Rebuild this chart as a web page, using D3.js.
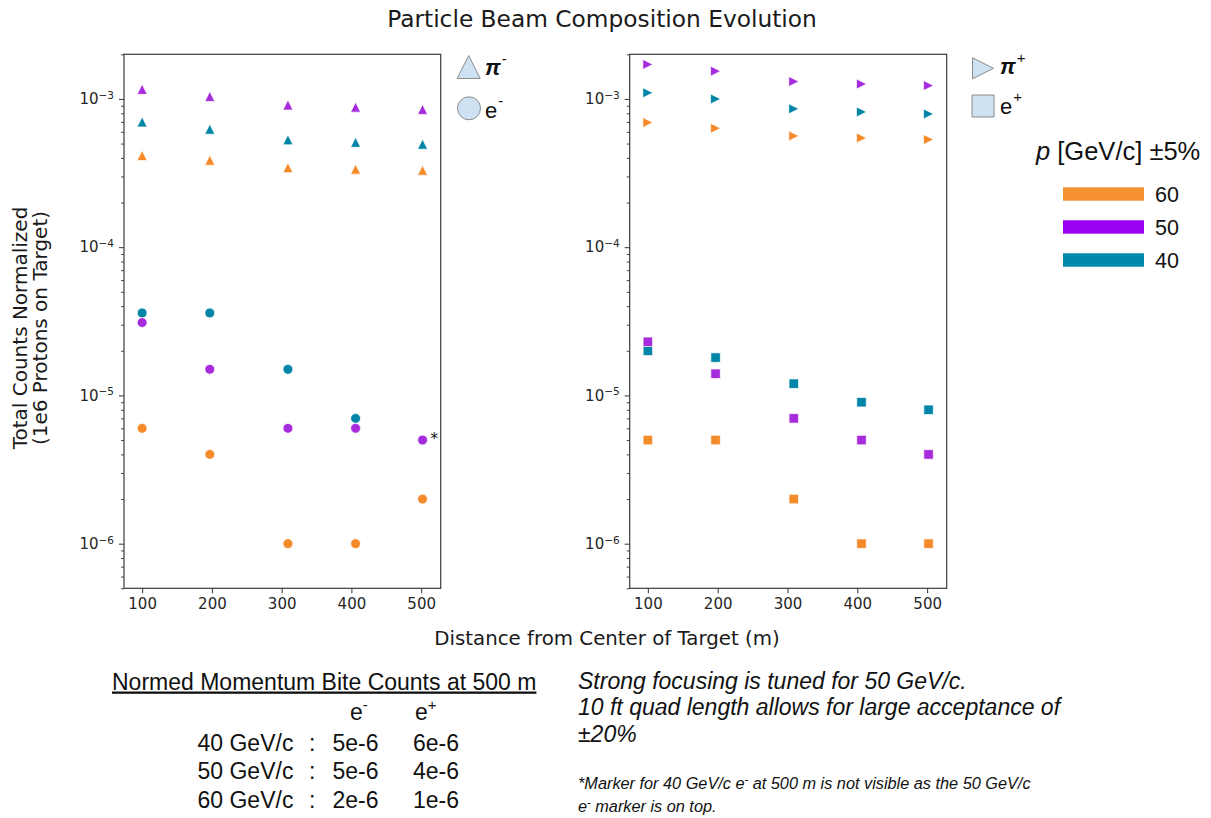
<!DOCTYPE html>
<html>
<head>
<meta charset="utf-8">
<script src="https://cdn.jsdelivr.net/npm/d3@7"></script>
<style>
  body { margin: 0; background: #fff; }
  svg { display: block; }
</style>
</head>
<body>
<svg id="chart" width="1211" height="818"></svg>
<script>
// Distance of each measurement station from the target centre (m)
const distances = [100, 197, 309, 406, 502];
const xTicks = [100, 200, 300, 400, 500];
const yMajorTicks = [1e-6, 1e-5, 1e-4, 1e-3];
const momenta = ["60", "50", "40"];

// Negative beam: pi- counts per momentum setting (GeV/c)
const piMinus40 = [7.0e-4, 6.25e-4, 5.3e-4, 5.1e-4, 4.95e-4];
const piMinus50 = [1.16e-3, 1.04e-3, 9.1e-4, 8.8e-4, 8.5e-4];
const piMinus60 = [4.15e-4, 3.86e-4, 3.44e-4, 3.36e-4, 3.3e-4];
// Negative beam: e- counts
const eMinus40 = [3.6e-5, 3.6e-5, 1.5e-5, 7e-6, 5e-6];
const eMinus50 = [3.1e-5, 1.5e-5, 6e-6, 6e-6, 5e-6];
const eMinus60 = [6e-6, 4e-6, 1e-6, 1e-6, 2e-6];
// Positive beam: pi+ counts
const piPlus40 = [1.10e-3, 1.0e-3, 8.57e-4, 8.17e-4, 7.92e-4];
const piPlus50 = [1.71e-3, 1.54e-3, 1.31e-3, 1.26e-3, 1.23e-3];
const piPlus60 = [6.93e-4, 6.34e-4, 5.63e-4, 5.46e-4, 5.32e-4];
// Positive beam: e+ counts
const ePlus40 = [2.0e-5, 1.8e-5, 1.2e-5, 9e-6, 8e-6];
const ePlus50 = [2.3e-5, 1.4e-5, 7e-6, 5e-6, 4e-6];
const ePlus60 = [5e-6, 5e-6, 2e-6, 1e-6, 1e-6];

// Momentum bite table at 500 m
const biteRows = ["40 GeV/c", "50 GeV/c", "60 GeV/c"];
const biteEMinus = ["5e-6", "5e-6", "2e-6"];
const biteEPlus = ["6e-6", "4e-6", "1e-6"];

const markerColor = { "40": "#0085a8", "50": "#a62bdc", "60": "#f58a2a" };
const swatchColor = { "40": "#0088aa", "50": "#9a00f2", "60": "#f5912f" };

const svg = d3.select("#chart");
const AX_FONT = "'DejaVu Sans', sans-serif";
const HV_FONT = "'Liberation Sans', Arial, sans-serif";

// Marker shapes centred on their bounding box
const triUp = { draw(c, s) { const h = Math.sqrt(s) / 2; c.moveTo(0, -h); c.lineTo(h, h); c.lineTo(-h, h); c.closePath(); } };
const triRight = { draw(c, s) { const h = Math.sqrt(s) / 2; c.moveTo(h, 0); c.lineTo(-h, h); c.lineTo(-h, -h); c.closePath(); } };

const y = d3.scaleLog().domain([5e-7, 2e-3]).range([588.3, 54.3]);
const xL = d3.scaleLinear().domain([74, 528]).range([124, 440.7]);
const xR = d3.scaleLinear().domain([74, 528]).range([629.7, 946.7]);

function drawPanel(x, layers) {
  const g = svg.append("g");
  const [x0, x1] = x.range();
  const [yb, yt] = y.range();

  // minor log ticks
  const minor = y.ticks().filter(v => Math.abs(Math.log10(v) - Math.round(Math.log10(v))) > 1e-6);
  g.append("g").attr("transform", `translate(${x0},0)`)
    .call(d3.axisLeft(y).tickValues(minor).tickSize(3).tickFormat(""))
    .call(a => a.select(".domain").remove())
    .call(a => a.selectAll("line").attr("stroke", "#333").attr("stroke-width", 0.9));

  // major log ticks with power-of-ten labels
  const yAx = g.append("g").attr("transform", `translate(${x0},0)`)
    .call(d3.axisLeft(y).tickValues(yMajorTicks).tickSize(5).tickPadding(5).tickFormat(() => "10"))
    .call(a => a.select(".domain").remove());
  yAx.selectAll("line").attr("stroke", "#333").attr("stroke-width", 1);
  yAx.selectAll("text").attr("font-family", AX_FONT).attr("font-size", 15).attr("fill", "#262626")
    .append("tspan").attr("dy", "-0.5em").attr("font-size", 10.5)
    .text(d => "\u2212" + Math.abs(Math.round(Math.log10(d))));

  const xAx = g.append("g").attr("transform", `translate(0,${yb})`)
    .call(d3.axisBottom(x).tickValues(xTicks).tickSize(5).tickPadding(5))
    .call(a => a.select(".domain").remove());
  xAx.selectAll("line").attr("stroke", "#333").attr("stroke-width", 1);
  xAx.selectAll("text").attr("font-family", AX_FONT).attr("font-size", 15).attr("fill", "#262626");

  // frame
  g.append("rect").attr("x", x0).attr("y", yt).attr("width", x1 - x0).attr("height", yb - yt)
    .attr("fill", "none").attr("stroke", "#3a3a3a").attr("stroke-width", 1.2);

  layers.forEach(L => {
    const sym = d3.symbol().type(L.type).size(L.size);
    g.append("g").selectAll("path")
      .data(L.values.map((v, i) => ({ d: distances[i], v })))
      .join("path")
      .attr("d", sym)
      .attr("transform", p => `translate(${x(p.d)},${y(p.v)})`)
      .attr("fill", markerColor[L.p])
      .attr("stroke", "#fff").attr("stroke-width", 0.7);
  });
  return g;
}

const gl = drawPanel(xL, [
  { type: triUp, size: 100, p: "40", values: piMinus40 },
  { type: triUp, size: 100, p: "50", values: piMinus50 },
  { type: triUp, size: 100, p: "60", values: piMinus60 },
  { type: d3.symbolCircle, size: 75, p: "40", values: eMinus40 },
  { type: d3.symbolCircle, size: 75, p: "50", values: eMinus50 },
  { type: d3.symbolCircle, size: 75, p: "60", values: eMinus60 }
]);
drawPanel(xR, [
  { type: triRight, size: 100, p: "40", values: piPlus40 },
  { type: triRight, size: 100, p: "50", values: piPlus50 },
  { type: triRight, size: 100, p: "60", values: piPlus60 },
  { type: d3.symbolSquare, size: 90, p: "40", values: ePlus40 },
  { type: d3.symbolSquare, size: 90, p: "50", values: ePlus50 },
  { type: d3.symbolSquare, size: 90, p: "60", values: ePlus60 }
]);

// footnote marker next to the overlapping e- points at 500 m
gl.append("text")
  .attr("x", xL(distances[4]) + 8).attr("y", y(eMinus50[4]) + 4)
  .attr("font-family", AX_FONT).attr("font-size", 15).attr("fill", "#111").text("*");

// Titles
svg.append("text").attr("x", 602).attr("y", 26.5).attr("text-anchor", "middle")
  .attr("font-family", AX_FONT).attr("font-size", 23.3).attr("fill", "#1a1a1a")
  .text("Particle Beam Composition Evolution");
svg.append("text").attr("x", 607).attr("y", 645).attr("text-anchor", "middle")
  .attr("font-family", AX_FONT).attr("font-size", 19.8).attr("fill", "#1a1a1a")
  .text("Distance from Center of Target (m)");
const yl = svg.append("text").attr("transform", "translate(26.5,328) rotate(-90)")
  .attr("text-anchor", "middle").attr("font-family", AX_FONT).attr("font-size", 20).attr("fill", "#1a1a1a");
yl.append("tspan").attr("x", 0).attr("dy", 0).text("Total Counts Normalized");
yl.append("tspan").attr("x", 0).attr("dy", 20).text("(1e6 Protons on Target)");

// Particle-type legend glyphs
const legFill = "#cfe2f3", legStroke = "#8c8c8c";
function glyph(type, size, cx, cy) {
  svg.append("path").attr("d", d3.symbol().type(type).size(size))
    .attr("transform", `translate(${cx},${cy})`)
    .attr("fill", legFill).attr("stroke", legStroke).attr("stroke-width", 1);
}
function legLabel(x, yb, base, sup, supDy, bold) {
  const t = svg.append("text").attr("x", x).attr("y", yb)
    .attr("font-family", HV_FONT).attr("font-size", 22).attr("fill", "#111");
  t.append("tspan").attr("font-style", bold ? "italic" : null).attr("font-weight", bold ? "bold" : null).text(base);
  t.append("tspan").attr("dx", 1).attr("dy", supDy).attr("font-size", 15).text(sup);
}
glyph(triUp, 23 * 23, 468.7, 67);
glyph(d3.symbolCircle, Math.PI * 11.5 * 11.5, 469, 108.3);
legLabel(485, 74.5, "\u03c0", "-", -11, true);
legLabel(485, 118, "e", "-", -12, false);

glyph(triRight, 21 * 21, 983, 68.3);
glyph(d3.symbolSquare, 22 * 22, 983, 106);
legLabel(1000, 73.5, "\u03c0", "+", -11, true);
legLabel(1000, 113.5, "e", "+", -12, false);

// Momentum legend
const mt = svg.append("text").attr("x", 1036).attr("y", 160)
  .attr("font-family", HV_FONT).attr("font-size", 25.5).attr("fill", "#111");
mt.append("tspan").attr("font-style", "italic").text("p");
mt.append("tspan").text(" [GeV/c] \u00b15%");

const sw = svg.append("g").selectAll("g").data(momenta).join("g")
  .attr("transform", (d, i) => `translate(1063,${194 + i * 33})`);
sw.append("rect").attr("x", 0).attr("y", -6.7).attr("width", 81).attr("height", 13.4)
  .attr("fill", d => swatchColor[d]);
sw.append("text").attr("x", 92).attr("y", 7.5)
  .attr("font-family", HV_FONT).attr("font-size", 21.5).attr("fill", "#111").text(d => d);

// Momentum bite table
svg.append("text").attr("x", 112).attr("y", 689.5)
  .attr("font-family", HV_FONT).attr("font-size", 23).attr("fill", "#111")
  .attr("text-decoration", "underline")
  .text("Normed Momentum Bite Counts at 500 m");
function hdr(x, base, sup) {
  const t = svg.append("text").attr("x", x).attr("y", 720)
    .attr("font-family", HV_FONT).attr("font-size", 23).attr("fill", "#111");
  t.append("tspan").text(base);
  t.append("tspan").attr("dy", -10).attr("font-size", 15).text(sup);
}
hdr(350, "e", "-");
hdr(415, "e", "+");
const rows = svg.append("g").selectAll("g").data(biteRows).join("g")
  .attr("transform", (d, i) => `translate(0,${750.7 + i * 28.5})`)
  .attr("font-family", HV_FONT).attr("font-size", 23).attr("fill", "#111");
rows.append("text").attr("x", 197.5).text(d => d);
rows.append("text").attr("x", 309).text(":");
rows.append("text").attr("x", 332.5).text((d, i) => biteEMinus[i]);
rows.append("text").attr("x", 413).text((d, i) => biteEPlus[i]);

// Notes
const notes = ["Strong focusing is tuned for 50 GeV/c.",
  "10 ft quad length allows for large acceptance of",
  "\u00b120%"];
svg.append("g").selectAll("text").data(notes).join("text")
  .attr("x", 578).attr("y", (d, i) => 688.5 + i * 26.6)
  .attr("font-family", HV_FONT).attr("font-size", 23).attr("font-style", "italic").attr("fill", "#111")
  .text(d => d);
const fn1 = svg.append("text").attr("x", 578).attr("y", 789)
  .attr("font-family", HV_FONT).attr("font-size", 16.3).attr("font-style", "italic").attr("fill", "#111");
fn1.append("tspan").text("*Marker for 40 GeV/c e");
fn1.append("tspan").attr("dy", -6).attr("font-size", 11).text("-");
fn1.append("tspan").attr("dy", 6).text(" at 500 m is not visible as the 50 GeV/c");
const fn2 = svg.append("text").attr("x", 578).attr("y", 811.5)
  .attr("font-family", HV_FONT).attr("font-size", 16.3).attr("font-style", "italic").attr("fill", "#111");
fn2.append("tspan").text("e");
fn2.append("tspan").attr("dy", -6).attr("font-size", 11).text("-");
fn2.append("tspan").attr("dy", 6).text(" marker is on top.");
</script>
</body>
</html>
